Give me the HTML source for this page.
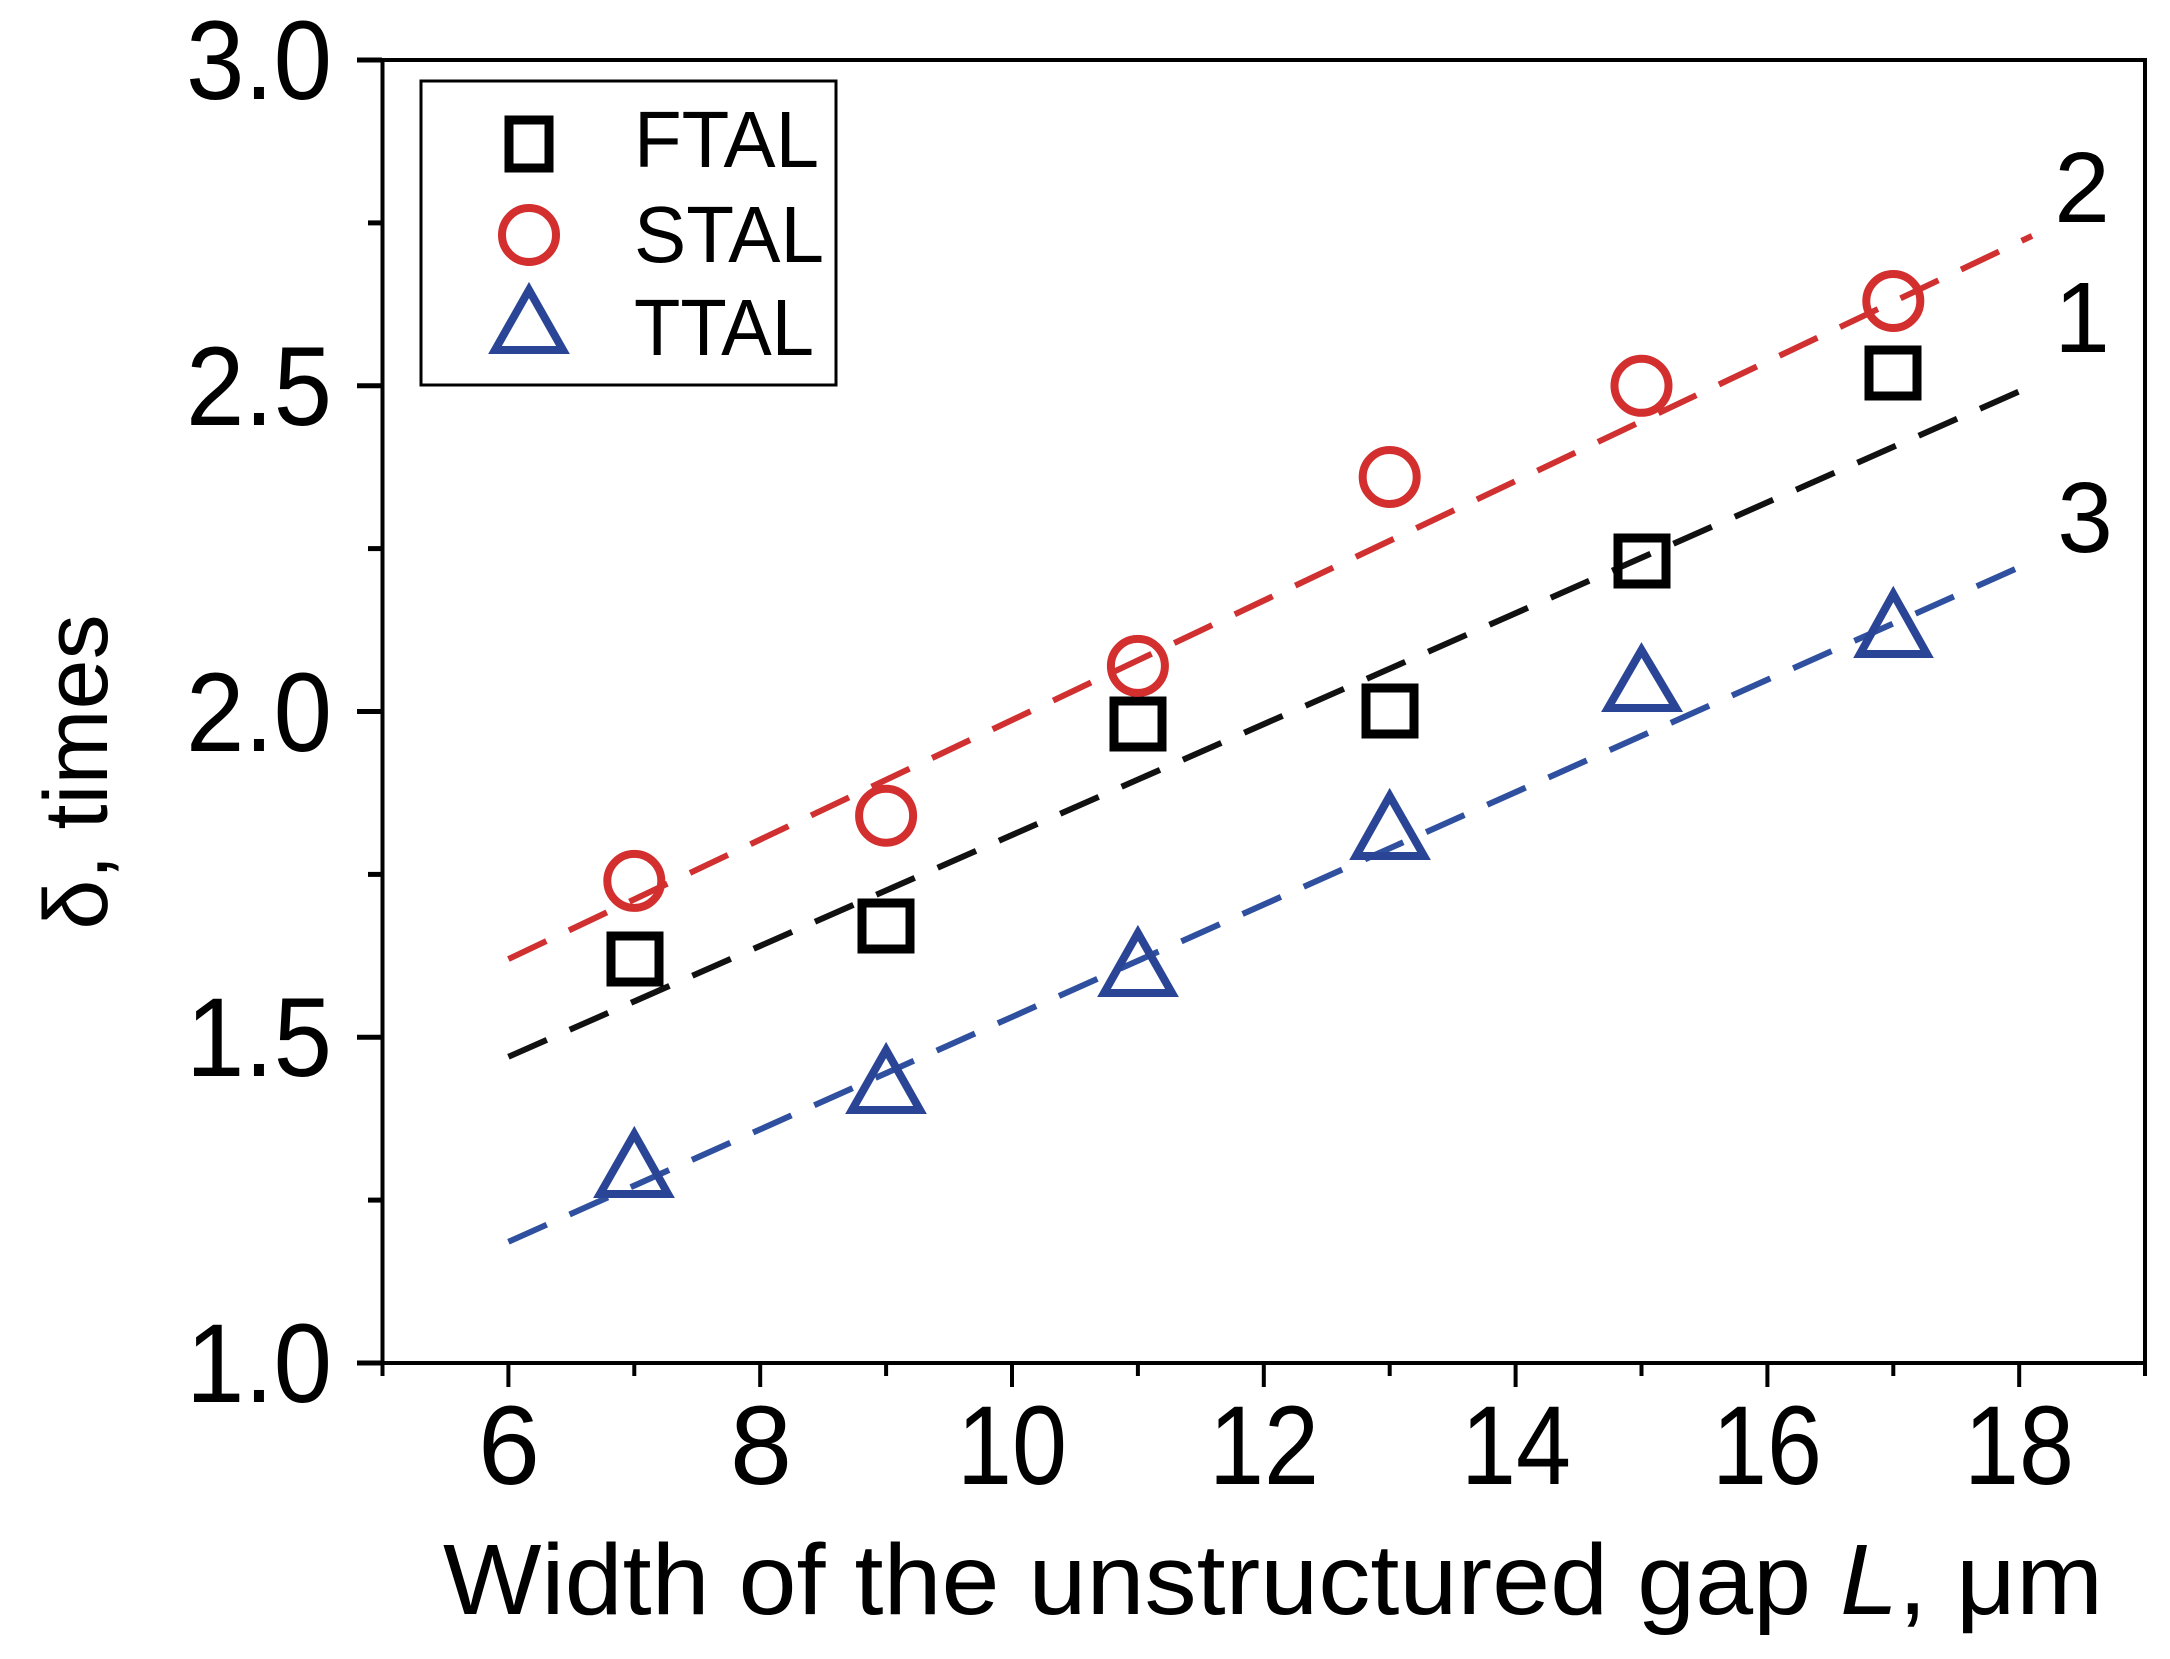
<!DOCTYPE html>
<html><head><meta charset="utf-8"><style>html,body{margin:0;padding:0;background:#fff}svg{display:block}</style></head>
<body>
<svg width="2170" height="1659" viewBox="0 0 2170 1659" xmlns="http://www.w3.org/2000/svg" font-family="Liberation Sans, Arial, sans-serif">
<rect width="2170" height="1659" fill="#fff"/>
<rect x="382.5" y="60" width="1762.5" height="1303" fill="none" stroke="#000" stroke-width="4"/>
<g stroke="#000" stroke-width="5">
<line x1="357" y1="60" x2="382" y2="60"/><line x1="368" y1="222.9" x2="382" y2="222.9"/>
<line x1="357" y1="385.8" x2="382" y2="385.8"/><line x1="368" y1="548.6" x2="382" y2="548.6"/>
<line x1="357" y1="711.5" x2="382" y2="711.5"/><line x1="368" y1="874.4" x2="382" y2="874.4"/>
<line x1="357" y1="1037.3" x2="382" y2="1037.3"/><line x1="368" y1="1200.1" x2="382" y2="1200.1"/>
<line x1="357" y1="1363" x2="382" y2="1363"/>
</g>
<g stroke="#000" stroke-width="4">
<line x1="382.5" y1="1363" x2="382.5" y2="1376"/>
<line x1="508.4" y1="1363" x2="508.4" y2="1387"/><line x1="634.3" y1="1363" x2="634.3" y2="1376"/>
<line x1="760.2" y1="1363" x2="760.2" y2="1387"/><line x1="886.1" y1="1363" x2="886.1" y2="1376"/>
<line x1="1012" y1="1363" x2="1012" y2="1387"/><line x1="1137.9" y1="1363" x2="1137.9" y2="1376"/>
<line x1="1263.8" y1="1363" x2="1263.8" y2="1387"/><line x1="1389.7" y1="1363" x2="1389.7" y2="1376"/>
<line x1="1515.6" y1="1363" x2="1515.6" y2="1387"/><line x1="1641.5" y1="1363" x2="1641.5" y2="1376"/>
<line x1="1767.4" y1="1363" x2="1767.4" y2="1387"/><line x1="1893.3" y1="1363" x2="1893.3" y2="1376"/>
<line x1="2019.2" y1="1363" x2="2019.2" y2="1387"/><line x1="2145" y1="1363" x2="2145" y2="1376"/>
</g>
<g font-size="112" fill="#000">
<text x="186" y="99" textLength="146" lengthAdjust="spacingAndGlyphs">3.0</text>
<text x="186" y="425" textLength="146" lengthAdjust="spacingAndGlyphs">2.5</text>
<text x="186" y="751" textLength="146" lengthAdjust="spacingAndGlyphs">2.0</text>
<text x="186" y="1076" textLength="146" lengthAdjust="spacingAndGlyphs">1.5</text>
<text x="186" y="1402" textLength="146" lengthAdjust="spacingAndGlyphs">1.0</text>
</g>
<g font-size="112" fill="#000">
<text x="478" y="1484" textLength="62" lengthAdjust="spacingAndGlyphs">6</text>
<text x="730" y="1484" textLength="62" lengthAdjust="spacingAndGlyphs">8</text>
<text x="957" y="1484" textLength="110" lengthAdjust="spacingAndGlyphs">10</text>
<text x="1209" y="1484" textLength="110" lengthAdjust="spacingAndGlyphs">12</text>
<text x="1461" y="1484" textLength="110" lengthAdjust="spacingAndGlyphs">14</text>
<text x="1712" y="1484" textLength="110" lengthAdjust="spacingAndGlyphs">16</text>
<text x="1964" y="1484" textLength="110" lengthAdjust="spacingAndGlyphs">18</text>
</g>
<text x="443" y="1614" font-size="100" textLength="1660" lengthAdjust="spacingAndGlyphs" fill="#000">Width of the unstructured gap <tspan font-style="italic">L</tspan>, μm</text>
<text transform="translate(107,772) rotate(-90)" font-size="90" text-anchor="middle" fill="#000">δ, times</text>
<g stroke-width="6" stroke-dasharray="42,25" fill="none">
<line x1="508.4" y1="959.1" x2="2032" y2="235.9" stroke="#d03030"/>
<line x1="508.4" y1="1056.8" x2="2032" y2="385.8" stroke="#111"/>
<line x1="508.4" y1="1241.8" x2="2032" y2="561.6" stroke="#2f4f9f"/>
</g>
<g fill="none" stroke="#000" stroke-width="9">
<rect x="611" y="936" width="48" height="46"/><rect x="862" y="903" width="48" height="46"/>
<rect x="1114" y="701" width="48" height="46"/><rect x="1366" y="688" width="48" height="46"/>
<rect x="1618" y="538" width="48" height="46"/><rect x="1869" y="350" width="48" height="46"/>
</g>
<g fill="none" stroke="#d32f2f" stroke-width="8">
<circle cx="634.3" cy="880.9" r="27"/><circle cx="886.1" cy="815.7" r="27"/><circle cx="1137.9" cy="665.9" r="27"/>
<circle cx="1389.7" cy="477" r="27"/><circle cx="1641.5" cy="385.8" r="27"/><circle cx="1893.3" cy="301" r="27"/>
</g>
<g fill="none" stroke="#2b4596" stroke-width="8">
<polygon points="634.3,1134 600,1194 668,1194"/><polygon points="886.1,1050 852,1110 920,1110"/>
<polygon points="1137.9,933 1104,993 1172,993"/><polygon points="1389.7,796 1356,856 1424,856"/>
<polygon points="1641.5,650 1608,708 1676,708"/><polygon points="1893.3,594 1860,654 1927,654"/>
</g>
<rect x="421" y="81" width="415" height="304" fill="#fff" stroke="#000" stroke-width="3"/>
<rect x="509" y="120" width="40" height="48" fill="none" stroke="#000" stroke-width="9"/>
<circle cx="529" cy="235" r="27" fill="none" stroke="#d32f2f" stroke-width="8"/>
<polygon points="529,290 495,350 563,350" fill="none" stroke="#2b4596" stroke-width="8"/>
<g font-size="80" fill="#000">
<text x="634" y="167" textLength="185" lengthAdjust="spacingAndGlyphs">FTAL</text>
<text x="634" y="262" textLength="190" lengthAdjust="spacingAndGlyphs">STAL</text>
<text x="634" y="355" textLength="180" lengthAdjust="spacingAndGlyphs">TTAL</text>
</g>
<g font-size="100" fill="#000" text-anchor="middle">
<text x="2082" y="222">2</text><text x="2082" y="352">1</text><text x="2085" y="552">3</text>
</g>
</svg>
</body></html>
